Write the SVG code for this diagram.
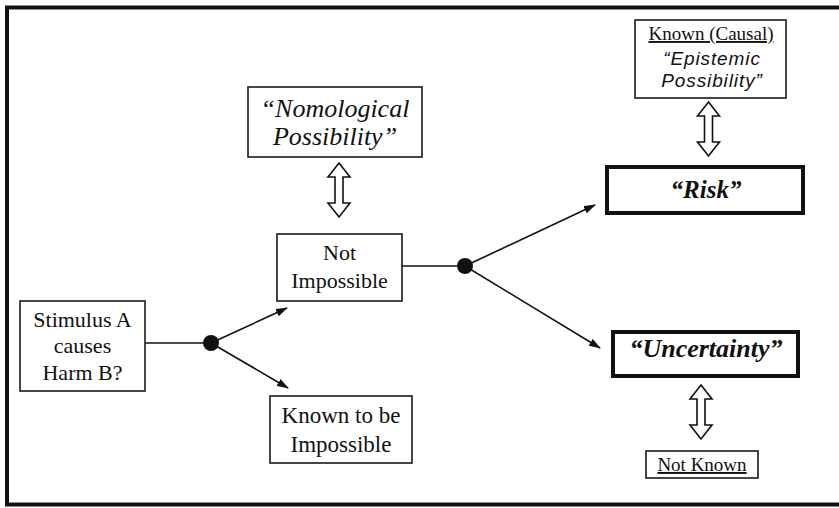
<svg xmlns="http://www.w3.org/2000/svg" width="839" height="508" viewBox="0 0 839 508">
<style>
.box{fill:#fff;stroke:#1a1a1a;stroke-width:1.6}
.thick{fill:#fff;stroke:#111;stroke-width:4}
.serif{font-family:"Liberation Serif","Times New Roman",serif;fill:#111;text-anchor:middle}
.sans{font-family:"Liberation Sans",Arial,sans-serif;fill:#111;text-anchor:middle;font-style:italic}
.conn{stroke:#111;stroke-width:1.6;fill:none}
.dbl{fill:#fff;stroke:#111;stroke-width:1.6;stroke-linejoin:miter}
</style>
<defs>
<marker id="ah" viewBox="0 0 12 8" refX="11" refY="4" markerWidth="12" markerHeight="8" markerUnits="userSpaceOnUse" orient="auto">
<path d="M0,0 L12,4 L0,8 Z" fill="#111"/>
</marker>
<path id="darrow" d="M0,0 L11,14 L4,14 L4,40 L11,40 L0,54 L-11,40 L-4,40 L-4,14 L-11,14 Z"/>
</defs>
<rect width="839" height="508" fill="#fff"/>
<path d="M839,7.5 L7,7.5 L7,504.5 L839,504.5" fill="none" stroke="#111" stroke-width="4"/>

<g id="connectors">
<line class="conn" x1="145" y1="343" x2="211" y2="343"/>
<line class="conn" x1="211" y1="343" x2="287" y2="308" marker-end="url(#ah)"/>
<line class="conn" x1="211" y1="343" x2="288" y2="388" marker-end="url(#ah)"/>
<circle cx="211" cy="343" r="8" fill="#111"/>
<line class="conn" x1="402" y1="266" x2="465" y2="266"/>
<line class="conn" x1="465" y1="266" x2="595" y2="205" marker-end="url(#ah)"/>
<line class="conn" x1="465" y1="266" x2="600" y2="348" marker-end="url(#ah)"/>
<circle cx="465" cy="266" r="8" fill="#111"/>
<use href="#darrow" class="dbl" transform="translate(339,163)"/>
<use href="#darrow" class="dbl" transform="translate(708.5,102)"/>
<use href="#darrow" class="dbl" transform="translate(701,385)"/>
</g>

<g id="stimulus">
<rect class="box" x="20" y="301" width="125" height="90"/>
<text class="serif" font-size="22" x="82.5" y="327">Stimulus A</text>
<text class="serif" font-size="22" x="82.5" y="353">causes</text>
<text class="serif" font-size="22" x="82.5" y="380">Harm B?</text>
</g>

<g id="not-impossible">
<rect class="box" x="277" y="234" width="125" height="67"/>
<text class="serif" font-size="22" x="339.5" y="260">Not</text>
<text class="serif" font-size="22" x="339.5" y="288">Impossible</text>
</g>

<g id="nomological">
<rect class="box" x="248" y="87" width="174" height="70"/>
<text class="serif" font-size="26" font-style="italic" x="335" y="117">“Nomological</text>
<text class="serif" font-size="26" font-style="italic" x="335" y="145">Possibility”</text>
</g>

<g id="known-impossible">
<rect class="box" x="270" y="396" width="142" height="67"/>
<text class="serif" font-size="23" x="341" y="423">Known to be</text>
<text class="serif" font-size="23" x="341" y="452">Impossible</text>
</g>

<g id="risk">
<rect class="thick" x="607" y="167" width="196" height="46"/>
<text class="serif" font-size="25" font-style="italic" font-weight="bold" x="706" y="198">“Risk”</text>
</g>

<g id="uncertainty">
<rect class="thick" x="613" y="332" width="185" height="44"/>
<text class="serif" font-size="26" font-style="italic" font-weight="bold" x="706" y="357">“Uncertainty”</text>
</g>

<g id="known-causal">
<rect class="box" x="635" y="20" width="151" height="78"/>
<text class="serif" font-size="19" x="711" y="40" text-decoration="underline">Known (Causal)</text>
<text class="sans" font-size="19" letter-spacing="0.9" x="712" y="65">“Epistemic</text>
<text class="sans" font-size="19" letter-spacing="0.9" x="712" y="87">Possibility”</text>
</g>

<g id="not-known">
<rect class="box" x="646" y="451" width="112" height="27"/>
<text class="serif" font-size="19" x="702" y="471" text-decoration="underline">Not Known</text>
</g>
</svg>
